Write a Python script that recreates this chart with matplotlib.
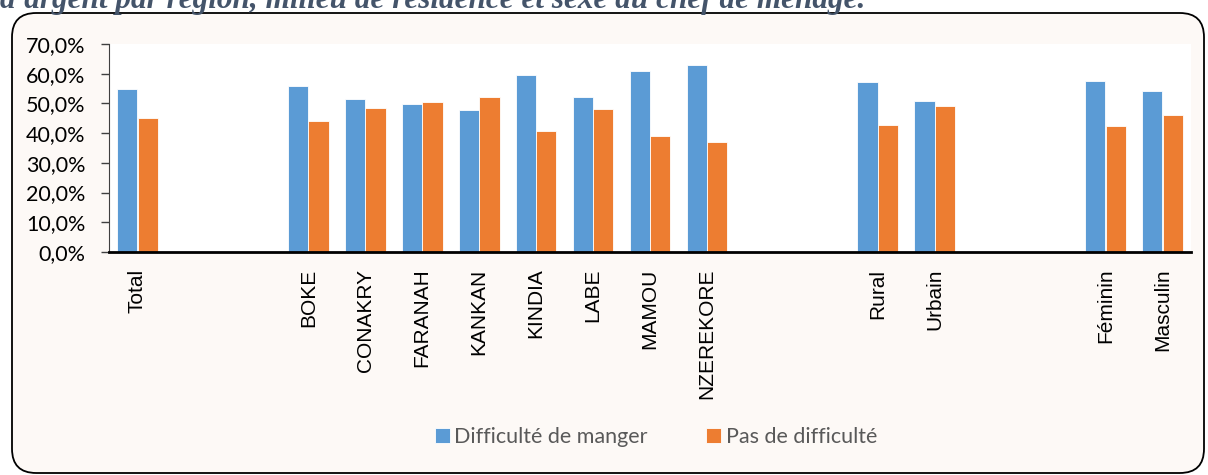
import numpy as np
import matplotlib.pyplot as plt
from matplotlib.patches import FancyBboxPatch
from matplotlib.ticker import FuncFormatter

# Empty strings are the blank slots that separate the groups on the axis
categories = ['Total', '', '',
              'BOKE', 'CONAKRY', 'FARANAH', 'KANKAN', 'KINDIA', 'LABE', 'MAMOU', 'NZEREKORE',
              '', '', 'Rural', 'Urbain', '', '', 'Féminin', 'Masculin']
difficulte = [54.8, np.nan, np.nan,
              56.0, 51.4, 49.7, 47.8, 59.4, 52.0, 61.0, 63.0,
              np.nan, np.nan, 57.2, 50.8, np.nan, np.nan, 57.5, 54.1]
pas_difficulte = [45.2, np.nan, np.nan,
                  44.0, 48.6, 50.4, 52.2, 40.7, 48.0, 39.0, 37.1,
                  np.nan, np.nan, 42.8, 49.2, np.nan, np.nan, 42.5, 46.0]
series_names = ['Difficulté de manger', 'Pas de difficulté']
title = "d'argent par région, milieu de résidence et sexe du chef de ménage."

blue = '#5B9BD5'
orange = '#ED7D31'
cream = '#FDF9F6'

fig = plt.figure(figsize=(12.08, 4.75), dpi=100, facecolor='white')

# rounded frame around the chart, kept behind the axes
box = FancyBboxPatch((12 / 1208, 2 / 475), 1192 / 1208, 460 / 475,
                     boxstyle='round,pad=0,rounding_size=0.02',
                     transform=fig.transFigure, facecolor=cream,
                     edgecolor='black', linewidth=1.3, mutation_aspect=1208 / 475,
                     zorder=-5)
fig.patches.append(box)

# title is partly cut off at the top, as in the source document
fig.text(0.0, 1 - 8 / 475, title, ha='left', va='baseline',
         family='Liberation Serif', style='italic', weight='bold',
         fontsize=22.5, color='#44546A')

ax = fig.add_axes([109 / 1208, 1 - 252 / 475, 1082 / 1208, 208 / 475])
ax.set_facecolor('white')

x = np.arange(len(categories))
w = 0.355
ax.bar(x - 0.18, np.array(difficulte) / 100, w, color=blue, edgecolor='white',
       linewidth=0.6, label=series_names[0])
ax.bar(x + 0.18, np.array(pas_difficulte) / 100, w, color=orange, edgecolor='white',
       linewidth=0.6, label=series_names[1])

ax.set_xlim(-0.5, len(categories) - 0.5)
ax.set_ylim(0, 0.7)
ax.set_yticks(np.arange(0, 0.71, 0.1))
ax.yaxis.set_major_formatter(FuncFormatter(lambda v, p: f'{v * 100:.1f}%'.replace('.', ',')))
ax.set_xticks(x)
ax.set_xticklabels(categories, rotation=90, family='Liberation Sans', fontsize=15)
ax.tick_params(axis='x', length=0, pad=12)
ax.tick_params(axis='y', length=6, width=1, color='#404040', pad=11, labelsize=15.5)
for lbl in ax.get_yticklabels():
    lbl.set_family('Lato')

for s in ['top', 'right']:
    ax.spines[s].set_visible(False)
ax.spines['left'].set_color('#404040')
ax.spines['bottom'].set_linewidth(2)
ax.spines['bottom'].set_color('black')

leg = fig.legend(loc='center', bbox_to_anchor=(656 / 1208, 1 - 437 / 475), ncol=2,
                 frameon=False, handlelength=0.7, handleheight=0.7, handletextpad=0.2,
                 columnspacing=2.7, prop={'family': 'Lato', 'size': 15.5})
for t in leg.get_texts():
    t.set_color('#595959')

fig.savefig('out.png', dpi=100, facecolor='white')
